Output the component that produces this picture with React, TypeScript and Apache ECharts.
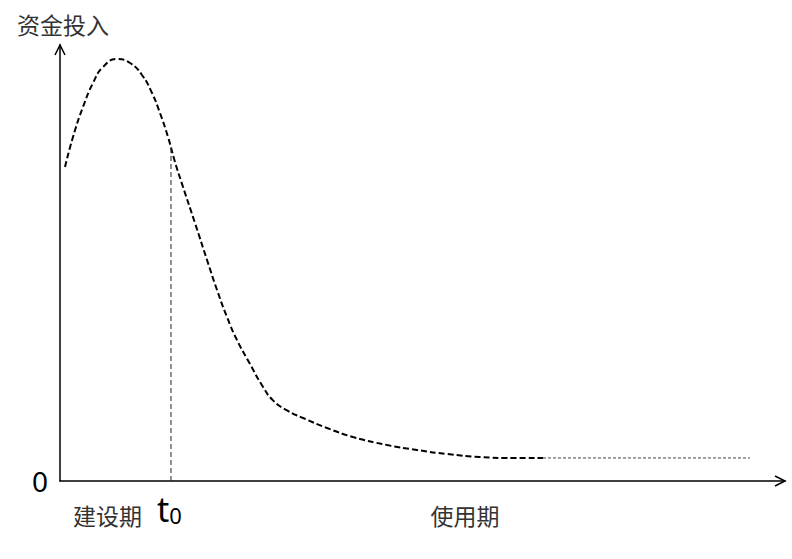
import React, { useEffect, useRef } from "react";
import * as echarts from "echarts";

// Main investment curve (x: time, y: funds)
const curveX = [0.69, 1.79, 3.17, 4.55, 5.93, 7.86, 9.66, 11.31, 12.69, 13.79, 14.9, 15.86, 16.97, 18.62, 20.28, 21.66, 23.03, 24.41, 26.21, 27.99, 29.38, 31.31, 33.52, 36.83, 40.41, 45.1, 49.24, 53.38, 57.93, 62.48, 66.62];
const curveY = [72.02, 78.9, 85.78, 91.28, 94.95, 96.79, 95.87, 93.12, 88.99, 84.4, 78.9, 73.17, 67.43, 59.17, 50.69, 43.81, 37.61, 32.34, 26.83, 21.6, 18.5, 16.2, 14.45, 12.16, 10.09, 8.26, 7.11, 6.19, 5.5, 5.28, 5.28];
// Flat tail in the use period
const tailX = [66.62, 95.17];
const tailY = [5.28, 5.28];
// t0 marker
const t0X = 15.31;
const t0Top = 76.4;
// Axis label positions and texts
const xLabelValues = [6.55, 15.1, 55.86];
const xLabelTexts = ["{a|建设期}", "{t|t}{s|0}", "{a|使用期}"];
const yAxisName = "资金投入";
const yLabelValues = [0];

export default function App() {
  const ref = useRef<HTMLDivElement>(null);
  useEffect(() => {
    if (!ref.current) return;
    const chart = echarts.init(ref.current, null, { renderer: "svg" });
    const curve = curveX.map((x, i) => [x, curveY[i]]);
    const tail = tailX.map((x, i) => [x, tailY[i]]);
    const cjk = '"Noto Sans CJK SC", sans-serif';
    chart.setOption({
      animation: false,
      backgroundColor: "#ffffff",
      grid: { left: 60, right: 7, top: 45, bottom: 78, containLabel: false },
      xAxis: {
        type: "value",
        min: 0,
        max: 100,
        splitLine: { show: false },
        axisTick: { show: false },
        axisLine: { show: true, lineStyle: { color: "#000", width: 1.5 } },
        axisLabel: {
          customValues: xLabelValues,
          margin: 9,
          formatter: (v: number) => {
            const i = xLabelValues.indexOf(v);
            return i >= 0 ? xLabelTexts[i] : "";
          },
          rich: {
            a: { fontSize: 23, fontFamily: cjk, color: "#333", lineHeight: 36, verticalAlign: "bottom" },
            t: { fontSize: 34, fontFamily: '"Noto Sans", sans-serif', color: "#000", lineHeight: 36, verticalAlign: "bottom" },
            s: { fontSize: 22, fontFamily: '"Noto Sans", sans-serif', color: "#000", lineHeight: 36, verticalAlign: "bottom" },
          },
        },
      },
      yAxis: {
        type: "value",
        min: 0,
        max: 100,
        name: yAxisName,
        nameLocation: "end",
        nameGap: 10,
        nameTextStyle: { fontSize: 23, fontFamily: cjk, color: "#333", padding: [0, 0, 0, 6] },
        splitLine: { show: false },
        axisTick: { show: false },
        axisLine: { show: true, lineStyle: { color: "#000", width: 1.5 } },
        axisLabel: {
          customValues: yLabelValues,
          margin: 12,
          fontSize: 28,
          color: "#000",
          fontFamily: '"Noto Sans", sans-serif',
          formatter: (v: number) => (v === 0 ? "0" : ""),
        },
      },
      graphic: [
        {
          type: "polyline",
          shape: { points: [[55, 55], [60, 45], [65, 55]] },
          style: { stroke: "#000", lineWidth: 1.5, fill: "none" },
          silent: true,
        },
        {
          type: "polyline",
          shape: { points: [[775, 476], [785, 481], [775, 486]] },
          style: { stroke: "#000", lineWidth: 1.5, fill: "none" },
          silent: true,
        },
      ],
      series: [
        {
          type: "line",
          data: curve,
          smooth: 0.5,
          showSymbol: false,
          lineStyle: { color: "#000", width: 2, type: [6, 3] },
          silent: true,
        },
        {
          type: "line",
          data: tail,
          showSymbol: false,
          lineStyle: { color: "#444", width: 1, type: [3, 2] },
          silent: true,
        },
        {
          type: "line",
          data: [[t0X, 0], [t0X, t0Top]],
          showSymbol: false,
          lineStyle: { color: "#222", width: 1, type: [5, 3] },
          silent: true,
        },
      ],
    });
    return () => chart.dispose();
  }, []);
  return (
    <div
      ref={ref}
      style={{ position: "fixed", left: 0, top: 0, width: 792, height: 559, background: "#fff" }}
    />
  );
}
